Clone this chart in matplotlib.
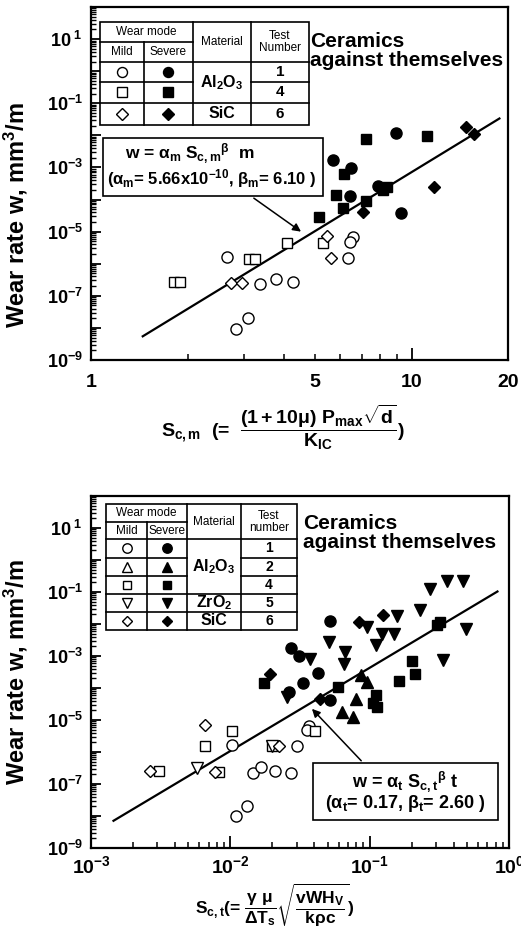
import numpy as np
import matplotlib
matplotlib.use("Agg")
import matplotlib.pyplot as plt
from matplotlib.patches import Rectangle
from matplotlib.ticker import NullFormatter, LogLocator

plt.rcParams['font.family'] = ['Liberation Sans', 'DejaVu Sans']
plt.rcParams['font.weight'] = 'bold'
plt.rcParams['mathtext.fontset'] = 'custom'
plt.rcParams['mathtext.rm'] = 'Liberation Sans:bold'
plt.rcParams['mathtext.it'] = 'Liberation Sans:bold'
plt.rcParams['mathtext.bf'] = 'Liberation Sans:bold'
plt.rcParams['mathtext.sf'] = 'Liberation Sans:bold'

# ---- mechanical severity index S_c,m (top panel) ----
m_t1_severe_s = [8.95, 5.68, 6.46, 6.43, 7.88, 9.25]
m_t1_severe_w = [1.2e-2, 1.7e-3, 9.5e-4, 1.3e-4, 2.6e-4, 3.9e-5]
m_t4_severe_s = [7.21, 11.2, 6.16, 5.81, 6.13, 7.21, 8.17, 8.41, 5.13]
m_t4_severe_w = [7.5e-3, 9.5e-3, 6.2e-4, 1.4e-4, 5.3e-5, 9.2e-5, 2.0e-4, 2.4e-4, 2.9e-5]
m_t6_severe_s = [14.8, 15.7, 11.75, 7.04]
m_t6_severe_w = [1.8e-2, 1.1e-2, 2.4e-4, 4.2e-5]
m_t1_mild_s = [6.58, 6.43, 6.35, 2.65, 3.37, 3.78, 4.26, 3.09, 2.83]
m_t1_mild_w = [6.6e-6, 4.9e-6, 1.5e-6, 1.6e-6, 2.3e-7, 3.3e-7, 2.6e-7, 2.0e-8, 9.5e-9]
m_t4_mild_s = [5.28, 4.08, 3.10, 3.24, 1.81, 1.89]
m_t4_mild_w = [4.4e-6, 4.4e-6, 1.4e-6, 1.4e-6, 2.6e-7, 2.6e-7]
m_t6_mild_s = [5.44, 5.62, 2.73, 2.95]
m_t6_mild_w = [7.3e-6, 1.55e-6, 2.5e-7, 2.5e-7]

alpha_m = 5.66e-10
beta_m = 6.10
m_fit_range = [1.45, 18.8]

# ---- thermal severity index S_c,t (bottom panel) ----
t_t1_severe_s = [0.052, 0.0274, 0.0313, 0.0427, 0.0334, 0.0262, 0.052]
t_t1_severe_w = [1.26e-2, 1.8e-3, 1.0e-3, 2.9e-4, 1.4e-4, 7.6e-5, 4.2e-5]
t_t2_severe_s = [0.0863, 0.0953, 0.0798, 0.0634, 0.0757]
t_t2_severe_w = [2.6e-4, 1.5e-4, 4.5e-5, 1.8e-5, 1.26e-5]
t_t4_severe_s = [0.303, 0.32, 0.201, 0.212, 0.163, 0.0173, 0.0593, 0.111, 0.106, 0.1135]
t_t4_severe_w = [9.3e-3, 1.15e-2, 6.9e-4, 2.7e-4, 1.6e-4, 1.4e-4, 1.05e-4, 6.0e-5, 3.3e-5, 2.6e-5]
t_t5_severe_s = [0.272, 0.361, 0.466, 0.228, 0.492, 0.158, 0.150, 0.123, 0.111,
                 0.0508, 0.067, 0.0655, 0.0373, 0.338, 0.0953, 0.0256]
t_t5_severe_w = [0.12, 0.22, 0.22, 2.75e-2, 6.8e-3, 1.78e-2, 4.9e-3, 4.7e-3, 2.2e-3,
                 2.8e-3, 1.35e-3, 5.6e-4, 7.9e-4, 7.5e-4, 8.3e-3, 5.4e-5]
t_t6_severe_s = [0.0843, 0.125, 0.0193, 0.044]
t_t6_severe_w = [1.12e-2, 1.9e-2, 2.7e-4, 4.5e-5]
t_t1_mild_s = [0.0102, 0.0366, 0.0353, 0.0303, 0.0146, 0.0167, 0.021, 0.0272, 0.0131, 0.0109]
t_t1_mild_w = [1.65e-6, 6.5e-6, 4.9e-6, 1.5e-6, 2.2e-7, 3.3e-7, 2.6e-7, 2.2e-7, 2.0e-8, 1.0e-8]
t_t4_mild_s = [0.0103, 0.0066, 0.00306, 0.0083, 0.0198, 0.0407]
t_t4_mild_w = [4.6e-6, 1.55e-6, 2.6e-7, 2.4e-7, 1.55e-6, 4.6e-6]
t_t5_mild_s = [0.0058, 0.0198]
t_t5_mild_w = [3.1e-7, 1.55e-6]
t_t6_mild_s = [0.0066, 0.00265, 0.0078, 0.0225]
t_t6_mild_w = [6.9e-6, 2.6e-7, 2.4e-7, 1.55e-6]

alpha_t = 0.17
beta_t = 2.60
t_fit_range = [1.45e-3, 0.826]

# table contents
top_tests = ['1', '4', '6']
top_markers = ['o', 's', 'D']
bot_tests = ['1', '2', '4', '5', '6']
bot_markers = ['o', '^', 's', 'v', 'D']

MS = {'o': 8, 's': 7.5, 'D': 6.4, '^': 8, 'v': 8}


def scatter(ax, s, w, mk, filled):
    ax.plot(s, w, linestyle='none', marker=mk, ms=MS[mk],
            mfc='black' if filled else 'white', mec='black', mew=1.0, zorder=4)


def y_axis(ax):
    ax.set_yscale('log')
    ax.set_ylim(1e-9, 1e2)
    exps = list(range(-9, 3))
    labels = []
    for e in exps:
        if e == 1:
            labels.append(r'10$^{\ 1}$')
        elif e < 0 and e % 2 != 0:
            labels.append(r'10$^{%d}$' % e)
        else:
            labels.append('')
    ax.set_yticks([10.0 ** e for e in exps], labels)
    ax.yaxis.set_minor_locator(LogLocator(base=10, subs=np.arange(2, 10), numticks=100))
    ax.yaxis.set_minor_formatter(NullFormatter())
    ax.tick_params(axis='y', which='major', direction='in', length=7, width=1.3,
                   labelsize=13, pad=6, right=False)
    ax.tick_params(axis='y', which='minor', direction='in', length=3.5, width=1.0, right=False)
    for sp in ax.spines.values():
        sp.set_linewidth(1.6)


def box_line(ax, x0, x1, y0, y1):
    ax.plot([x0, x1], [y0, y1], color='black', lw=1.2, transform=ax.transAxes,
            zorder=6, clip_on=False)


fig = plt.figure(figsize=(5.21, 9.34), dpi=100)
ax1 = fig.add_axes([0.1747, 0.6146, 0.8004, 0.3779])
ax2 = fig.add_axes([0.1747, 0.0921, 0.8023, 0.3769])

# ================= top panel =================
scatter(ax1, m_t1_mild_s, m_t1_mild_w, 'o', False)
scatter(ax1, m_t4_mild_s, m_t4_mild_w, 's', False)
scatter(ax1, m_t6_mild_s, m_t6_mild_w, 'D', False)
scatter(ax1, m_t1_severe_s, m_t1_severe_w, 'o', True)
scatter(ax1, m_t4_severe_s, m_t4_severe_w, 's', True)
scatter(ax1, m_t6_severe_s, m_t6_severe_w, 'D', True)

s_fit = np.logspace(np.log10(m_fit_range[0]), np.log10(m_fit_range[1]), 60)
ax1.plot(s_fit, alpha_m * s_fit ** beta_m, color='black', lw=1.6, zorder=3)

ax1.set_xscale('log')
ax1.set_xlim(1, 20)
ax1.set_xticks([1, 10], ['1', '10'])
ax1.set_xticks([2, 3, 4, 5, 6, 7, 8, 9, 20], ['', '', '', '5', '', '', '', '', '20'], minor=True)
ax1.tick_params(axis='x', which='major', direction='in', length=9, width=1.3,
                labelsize=14, pad=10, top=False)
ax1.tick_params(axis='x', which='minor', direction='in', length=4.5, width=1.1,
                labelsize=14, pad=10, top=False)
y_axis(ax1)
ax1.set_ylabel('Wear rate w, mm$^3$/m', fontsize=17, fontweight='bold')
ax1.yaxis.set_label_coords(-0.146, 0.41)

ax1.text(0.46, -0.19,
         r'S$_{c,m}$  (=  $\dfrac{(1+10\mu)\ P_{max}\sqrt{d}}{K_{IC}}$)',
         transform=ax1.transAxes, ha='center', va='center', fontsize=14)

# legend table
tx = [0.0216, 0.1278, 0.2436, 0.3829, 0.5235]
ty = [0.9584, 0.9017, 0.8433, 0.7884, 0.7272, 0.6671]
ax1.add_patch(Rectangle((tx[0], ty[-1]), tx[-1] - tx[0], ty[0] - ty[-1],
                        transform=ax1.transAxes, fc='white', ec='black', lw=1.2, zorder=5))
box_line(ax1, tx[1], tx[1], ty[-1], ty[1])
box_line(ax1, tx[2], tx[2], ty[-1], ty[0])
box_line(ax1, tx[3], tx[3], ty[-1], ty[0])
box_line(ax1, tx[0], tx[2], ty[1], ty[1])
box_line(ax1, tx[0], tx[4], ty[2], ty[2])
box_line(ax1, tx[0], tx[2], ty[3], ty[3])
box_line(ax1, tx[3], tx[4], ty[3], ty[3])
box_line(ax1, tx[0], tx[4], ty[4], ty[4])
kw = dict(transform=ax1.transAxes, ha='center', va='center', zorder=7)
ax1.text((tx[0] + tx[2]) / 2, (ty[0] + ty[1]) / 2, 'Wear mode', fontsize=8.5, fontweight='normal', **kw)
ax1.text((tx[0] + tx[1]) / 2, (ty[1] + ty[2]) / 2, 'Mild', fontsize=8.5, fontweight='normal', **kw)
ax1.text((tx[1] + tx[2]) / 2, (ty[1] + ty[2]) / 2, 'Severe', fontsize=8.5, fontweight='normal', **kw)
ax1.text((tx[2] + tx[3]) / 2, (ty[0] + ty[2]) / 2, 'Material', fontsize=8.5, fontweight='normal', **kw)
ax1.text((tx[3] + tx[4]) / 2, (ty[0] + ty[2]) / 2, 'Test\nNumber', fontsize=8.5,
         fontweight='normal', linespacing=1.0, **kw)
for i, (mk, num) in enumerate(zip(top_markers, top_tests)):
    yc = (ty[i + 2] + ty[i + 3]) / 2
    for j, filled in enumerate([False, True]):
        ax1.plot((tx[j] + tx[j + 1]) / 2, yc, marker=mk, ms=MS[mk] * 0.9,
                 mfc='black' if filled else 'white', mec='black', mew=1.0,
                 transform=ax1.transAxes, zorder=7, clip_on=False)
    ax1.text((tx[3] + tx[4]) / 2, yc, num, fontsize=11, **kw)
ax1.text((tx[2] + tx[3]) / 2, (ty[2] + ty[4]) / 2, r'Al$_2$O$_3$', fontsize=11.5, **kw)
ax1.text((tx[2] + tx[3]) / 2, (ty[4] + ty[5]) / 2, 'SiC', fontsize=11.5, **kw)

ax1.text(0.525, 0.875, 'Ceramics\nagainst themselves', transform=ax1.transAxes,
         ha='left', va='center', fontsize=15, linespacing=1.0)

# fit equation box
ax1.add_patch(Rectangle((0.028, 0.4646), 0.528, 0.1654, transform=ax1.transAxes,
                        fc='white', ec='black', lw=1.2, zorder=5))
ax1.text(0.237, 0.5855, r'w = $\alpha_m$ S$_{c,m}$$^{\beta}$  m', transform=ax1.transAxes,
         ha='center', va='center', fontsize=12.5, zorder=7)
ax1.text(0.29, 0.5147, r'($\alpha_m$= 5.66x10$^{-10}$, $\beta_m$= 6.10 )',
         transform=ax1.transAxes, ha='center', va='center', fontsize=12, zorder=7)
ax1.annotate('', xy=(0.509, 0.359), xytext=(0.385, 0.463), xycoords='axes fraction',
             arrowprops=dict(arrowstyle='-|>', color='black', lw=1.1, mutation_scale=12),
             zorder=6)

# ================= bottom panel =================
scatter(ax2, t_t1_mild_s, t_t1_mild_w, 'o', False)
scatter(ax2, t_t4_mild_s, t_t4_mild_w, 's', False)
scatter(ax2, t_t5_mild_s, t_t5_mild_w, 'v', False)
scatter(ax2, t_t6_mild_s, t_t6_mild_w, 'D', False)
scatter(ax2, t_t1_severe_s, t_t1_severe_w, 'o', True)
scatter(ax2, t_t2_severe_s, t_t2_severe_w, '^', True)
scatter(ax2, t_t4_severe_s, t_t4_severe_w, 's', True)
scatter(ax2, t_t5_severe_s, t_t5_severe_w, 'v', True)
scatter(ax2, t_t6_severe_s, t_t6_severe_w, 'D', True)

s_fit = np.logspace(np.log10(t_fit_range[0]), np.log10(t_fit_range[1]), 60)
ax2.plot(s_fit, alpha_t * s_fit ** beta_t, color='black', lw=1.6, zorder=3)

ax2.set_xscale('log')
ax2.set_xlim(1e-3, 1)
ax2.set_xticks([1e-3, 1e-2, 1e-1, 1], [r'10$^{-3}$', r'10$^{-2}$', r'10$^{-1}$', r'10$^{0}$'])
ax2.xaxis.set_minor_locator(LogLocator(base=10, subs=np.arange(2, 10), numticks=100))
ax2.xaxis.set_minor_formatter(NullFormatter())
ax2.tick_params(axis='x', which='major', direction='in', length=9, width=1.3,
                labelsize=14, pad=5, top=False)
ax2.tick_params(axis='x', which='minor', direction='in', length=4.5, width=1.1, top=False)
y_axis(ax2)
ax2.set_ylabel('Wear rate w, mm$^3$/m', fontsize=17, fontweight='bold')
ax2.yaxis.set_label_coords(-0.146, 0.5)

ax2.text(0.44, -0.163,
         r'S$_{c,t}$(= $\dfrac{\gamma\ \mu}{\Delta T_s}\sqrt{\dfrac{vWH_V}{k\rho c}}$)',
         transform=ax2.transAxes, ha='center', va='center', fontsize=12.5)

tx = [0.0359, 0.134, 0.229, 0.358, 0.4935]
ty = [0.977, 0.925, 0.877, 0.8247, 0.7736, 0.7224, 0.6713, 0.6193]
ax2.add_patch(Rectangle((tx[0], ty[-1]), tx[-1] - tx[0], ty[0] - ty[-1],
                        transform=ax2.transAxes, fc='white', ec='black', lw=1.2, zorder=5))
box_line(ax2, tx[1], tx[1], ty[-1], ty[1])
box_line(ax2, tx[2], tx[2], ty[-1], ty[0])
box_line(ax2, tx[3], tx[3], ty[-1], ty[0])
box_line(ax2, tx[0], tx[2], ty[1], ty[1])
box_line(ax2, tx[0], tx[4], ty[2], ty[2])
for k in (3, 4):
    box_line(ax2, tx[0], tx[2], ty[k], ty[k])
    box_line(ax2, tx[3], tx[4], ty[k], ty[k])
box_line(ax2, tx[0], tx[4], ty[5], ty[5])
box_line(ax2, tx[0], tx[4], ty[6], ty[6])
kw = dict(transform=ax2.transAxes, ha='center', va='center', zorder=7)
ax2.text((tx[0] + tx[2]) / 2, (ty[0] + ty[1]) / 2, 'Wear mode', fontsize=8.5, fontweight='normal', **kw)
ax2.text((tx[0] + tx[1]) / 2, (ty[1] + ty[2]) / 2, 'Mild', fontsize=8.5, fontweight='normal', **kw)
ax2.text((tx[1] + tx[2]) / 2, (ty[1] + ty[2]) / 2, 'Severe', fontsize=8.5, fontweight='normal', **kw)
ax2.text((tx[2] + tx[3]) / 2, (ty[0] + ty[2]) / 2, 'Material', fontsize=8.5, fontweight='normal', **kw)
ax2.text((tx[3] + tx[4]) / 2, (ty[0] + ty[2]) / 2, 'Test\nnumber', fontsize=8.5,
         fontweight='normal', linespacing=1.0, **kw)
for i, (mk, num) in enumerate(zip(bot_markers, bot_tests)):
    yc = (ty[i + 2] + ty[i + 3]) / 2
    for j, filled in enumerate([False, True]):
        ax2.plot((tx[j] + tx[j + 1]) / 2, yc, marker=mk, ms=MS[mk] * 0.85,
                 mfc='black' if filled else 'white', mec='black', mew=1.0,
                 transform=ax2.transAxes, zorder=7, clip_on=False)
    ax2.text((tx[3] + tx[4]) / 2, yc, num, fontsize=10, **kw)
ax2.text((tx[2] + tx[3]) / 2, (ty[2] + ty[5]) / 2, r'Al$_2$O$_3$', fontsize=11.5, **kw)
ax2.text((tx[2] + tx[3]) / 2, (ty[5] + ty[6]) / 2, r'ZrO$_2$', fontsize=11.5, **kw)
ax2.text((tx[2] + tx[3]) / 2, (ty[6] + ty[7]) / 2, 'SiC', fontsize=11.5, **kw)

ax2.text(0.507, 0.895, 'Ceramics\nagainst themselves', transform=ax2.transAxes,
         ha='left', va='center', fontsize=15, linespacing=1.0)

ax2.add_patch(Rectangle((0.530, 0.0795), 0.444, 0.1605, transform=ax2.transAxes,
                        fc='white', ec='black', lw=1.2, zorder=5))
ax2.text(0.752, 0.188, r'w = $\alpha_t$ S$_{c,t}$$^{\beta}$ t', transform=ax2.transAxes,
         ha='center', va='center', fontsize=13, zorder=7)
ax2.text(0.752, 0.1264, r'($\alpha_t$= 0.17, $\beta_t$= 2.60 )', transform=ax2.transAxes,
         ha='center', va='center', fontsize=13, zorder=7)
ax2.annotate('', xy=(0.524, 0.401), xytext=(0.651, 0.242), xycoords='axes fraction',
             arrowprops=dict(arrowstyle='-|>', color='black', lw=1.1, mutation_scale=12),
             zorder=6)

fig.savefig('out.png', dpi=100)
